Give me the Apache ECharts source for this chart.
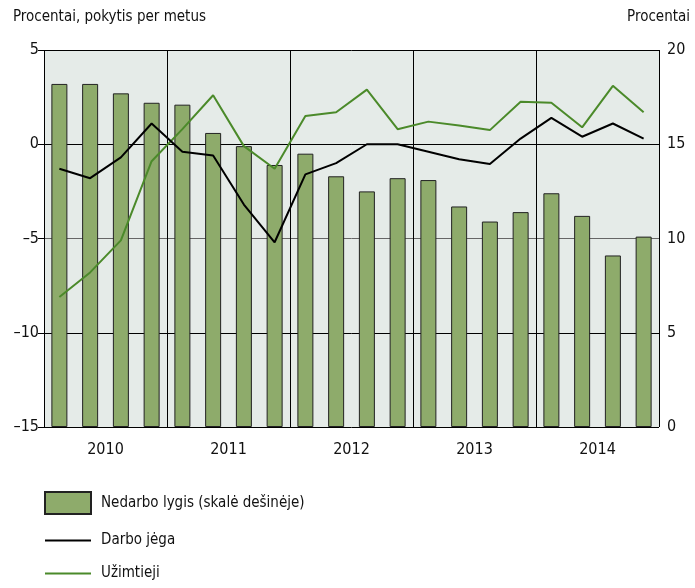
<!DOCTYPE html>
<html>
<head>
<meta charset="utf-8">
<script src="https://cdn.jsdelivr.net/npm/echarts@6/dist/echarts.min.js"></script>
<style>
  html, body { margin: 0; padding: 0; background: #fff; }
  #chart { width: 695px; height: 588px; }
</style>
</head>
<body>
<div id="chart"></div>
<script>
var years = ['2010', '2011', '2012', '2013', '2014'];
var quarters = [];
years.forEach(function (y) {
    for (var q = 1; q <= 4; q++) quarters.push(y + ' K' + q);
});

// Nedarbo lygis, % (dešinė ašis)
var unemployment = [18.2, 18.2, 17.7, 17.2, 17.1, 15.6, 14.9, 13.9, 14.5, 13.3,
                    12.5, 13.2, 13.1, 11.7, 10.9, 11.4, 12.4, 11.2, 9.1, 10.1];
// Darbo jėga, pokytis per metus
var labourForce = [-1.3, -1.8, -0.7, 1.1, -0.4, -0.6, -3.2, -5.2, -1.6, -1.0,
                   0.0, 0.0, -0.4, -0.8, -1.05, 0.3, 1.4, 0.4, 1.1, 0.3];
// Užimtieji, pokytis per metus
var employed = [-8.1, -6.8, -5.1, -0.9, 0.8, 2.6, -0.1, -1.3, 1.5, 1.7,
                2.9, 0.8, 1.2, 1.0, 0.75, 2.25, 2.2, 0.9, 3.1, 1.7];

var font = '"DejaVu Sans Condensed", "Liberation Sans Narrow", sans-serif';
var lineIcon = 'path://M0,0L46,0L46,2L0,2Z';
var chart = echarts.init(document.getElementById('chart'));

function dash(v) {
    return String(v).replace('-', '\u2013');
}

var option = {
    animation: false,
    textStyle: { fontFamily: font },
    grid: {
        left: 44, right: 36, top: 50, bottom: 161,
        show: true, backgroundColor: '#e5ebe8', borderWidth: 0
    },
    title: [{
        text: 'Procentai, pokytis per metus',
        left: 13, top: 10, padding: 0,
        textStyle: { fontFamily: font, fontSize: 15, fontWeight: 'normal', color: '#111' }
    }, {
        text: 'Procentai',
        right: 5, top: 10, padding: 0,
        textStyle: { fontFamily: font, fontSize: 15, fontWeight: 'normal', color: '#111' }
    }],
    legend: {
        orient: 'vertical',
        left: 44, top: 491, padding: 0,
        itemWidth: 46, itemHeight: 22, itemGap: 18,
        symbolKeepAspect: true,
        textStyle: { fontFamily: font, fontSize: 15, color: '#111', padding: [0, 0, 0, 5] },
        data: [
            { name: 'Nedarbo lygis (skalė dešinėje)', icon: 'rect' },
            { name: 'Darbo jėga', icon: lineIcon },
            { name: 'Užimtieji', icon: lineIcon }
        ]
    },
    xAxis: [{
        type: 'category',
        data: quarters,
        axisLine: { show: true, lineStyle: { color: '#000', width: 1 } },
        axisTick: { show: false },
        axisLabel: { show: false },
        splitLine: { show: false }
    }, {
        type: 'category',
        data: years,
        position: 'bottom',
        axisLine: { show: false },
        axisTick: { show: false },
        axisLabel: { fontSize: 16, color: '#111', margin: 15 },
        splitLine: { show: true, lineStyle: { color: '#000', width: 1 } }
    }],
    yAxis: [{
        type: 'value',
        min: -15, max: 5, interval: 5,
        axisLine: { show: false },
        axisTick: { show: true, length: 6, lineStyle: { color: '#000' } },
        axisLabel: { fontSize: 16, color: '#111', margin: 5, formatter: dash },
        splitLine: { show: true, lineStyle: { color: ['#000', '#000', '#666', '#666', '#000'], width: 1 } }
    }, {
        type: 'value',
        min: 0, max: 20, interval: 5,
        position: 'right',
        axisLine: { show: false },
        axisTick: { show: false },
        axisLabel: { fontSize: 16, color: '#111', margin: 8 },
        splitLine: { show: false }
    }],
    series: [{
        name: 'Nedarbo lygis (skalė dešinėje)',
        type: 'bar',
        yAxisIndex: 1,
        barWidth: 16,
        itemStyle: { color: '#8eab6b', borderColor: '#222', borderWidth: 1 },
        data: unemployment,
        z: 2
    }, {
        name: 'Darbo jėga',
        type: 'line',
        yAxisIndex: 0,
        symbol: 'none',
        lineStyle: { color: '#000', width: 2 },
        itemStyle: { color: '#000' },
        data: labourForce,
        z: 4
    }, {
        name: 'Užimtieji',
        type: 'line',
        yAxisIndex: 0,
        symbol: 'none',
        lineStyle: { color: '#4b8a2a', width: 2 },
        itemStyle: { color: '#4b8a2a' },
        data: employed,
        z: 3
    }]
};

chart.setOption(option);
</script>
</body>
</html>
